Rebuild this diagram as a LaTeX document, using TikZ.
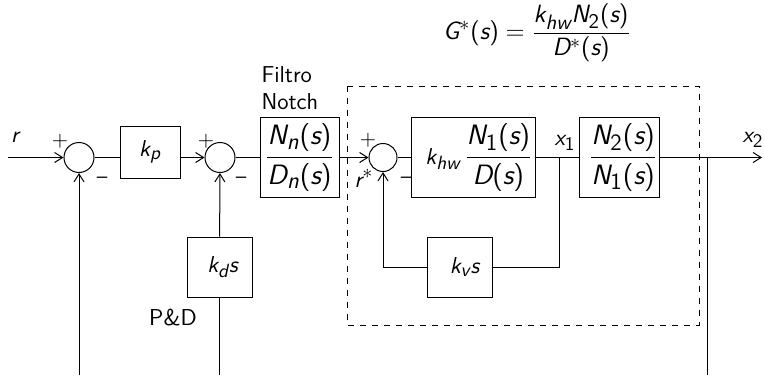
\documentclass[tikz,border=0pt]{standalone}
\usepackage{amsmath}
\renewcommand{\familydefault}{\sfdefault}
\usepackage[italic]{mathastext}
\usetikzlibrary{arrows.meta,positioning,calc}
\newcommand{\bigfrac}[2]{{\fontsize{14}{17}\selectfont$\dfrac{#1}{#2}$}}
\tikzset{
  blockbox/.style={draw, rectangle, inner sep=0pt, align=center,
                   minimum width=#1},
  blockbox/.default=30pt,
  sumnode/.style ={draw, circle, inner sep=0pt, minimum size=15pt},
  signlbl/.style ={inner sep=0pt, font=\fontsize{10.5}{12}\selectfont},
  arr/.style     ={-{Straight Barb[length=4pt,width=5pt]}},
  wire/.style    ={line width=0.5pt},
}
\begin{document}
\begin{tikzpicture}[x=0.5pt,y=-0.5pt,wire,
    every node/.style={font=\fontsize{11.5}{13.5}\selectfont}]
  \useasboundingbox (0,0) rectangle (765,375);

  % main forward path
  \coordinate (rin) at (8,157.5);
  \node[sumnode] (sum1) at (79,157.5) {};
  \node[blockbox=30pt, minimum height=26pt] (kp) at (150,152) {$k_p$};
  \node[sumnode] (sum2) at (220,157.5) {};
  \node[blockbox=39.5pt, minimum height=40pt] (notch) at (299.5,157.5)
        {\bigfrac{N_n(s)}{D_n(s)}};
  \node[sumnode, minimum size=14pt] (sum3) at (383,157.5) {};
  \node[blockbox=62pt, minimum height=40pt] (khw) at (473,157.5)
        {\hspace*{6pt}$k_{hw}$\,\bigfrac{N_1(s)}{D(s)}};
  \node[blockbox=40pt, minimum height=40pt] (plant) at (619,157.5)
        {\hspace*{4pt}\bigfrac{N_2(s)}{N_1(s)}};
  \coordinate (x1pt) at (559,157.5);
  \coordinate (x2pt) at (707,157.5);
  \coordinate (xout) at (762,157.5);

  % feedback blocks
  \node[blockbox=32.5pt, minimum height=30pt] (kds) at (219.5,267)
        {\hspace*{3pt}$k_d s$};
  \node[blockbox=32.5pt, minimum height=30pt] (kvs) at (459.5,267)
        {\hspace*{5pt}$k_v s$};
  \coordinate (bot1) at (79,375);
  \coordinate (bot2) at (219.5,375);
  \coordinate (bot3) at (707,375);

  % inner loop frame
  \draw[dashed] (347,86) rectangle (699,325);

  % labels
  \node[inner sep=0pt] (rlbl) at (15,137) {$r$};
  \node[signlbl] (p1) at (60,141) {$+$};
  \node[signlbl] (m1) at (102,180) {$-$};
  \node[signlbl] (p2) at (206,141) {$+$};
  \node[signlbl] (m2) at (241,180) {$-$};
  \node[signlbl] (p3) at (368,140) {$+$};
  \node[signlbl] (m3) at (406,180) {$-$};
  \node[inner sep=0pt] (rstar) at (364,178) {$r^*$};
  \node[inner sep=0pt] (x1lbl) at (565,143) {$x_1$};
  \node[inner sep=0pt] (x2lbl) at (753,140) {$x_2$};
  \node[inner sep=0pt] (pd) at (173,318) {P\&D};
  \node[inner sep=0pt, anchor=north west, align=left] (filt) at (261,66)
        {Filtro\\Notch};
  \node[inner sep=0pt, font=\fontsize{12.5}{15}\selectfont] (gstar) at (537,33)
        {$G^*(s)=\dfrac{k_{hw}N_2(s)}{D^*(s)}$};

  % connections
  \draw[arr] (rin) -- (sum1);
  \draw (sum1) -- (sum1 -| kp.west);
  \draw[arr] (kp.east |- sum2) -- (sum2);
  \draw (sum2) -- (notch);
  \draw[arr] (notch) -- (sum3);
  \draw (sum3) -- (khw);
  \draw (khw) -- (plant);
  \draw[arr] (plant) -- (xout);
  \draw (x2pt) -- (bot3);
  \draw (x1pt) |- (kvs);
  \draw[arr] (kvs) -| (sum3);
  \draw[arr] (bot1) -- (sum1);
  \draw (bot2) -- (kds);
  \draw[arr] (kds) -- (sum2);
\end{tikzpicture}
\end{document}
